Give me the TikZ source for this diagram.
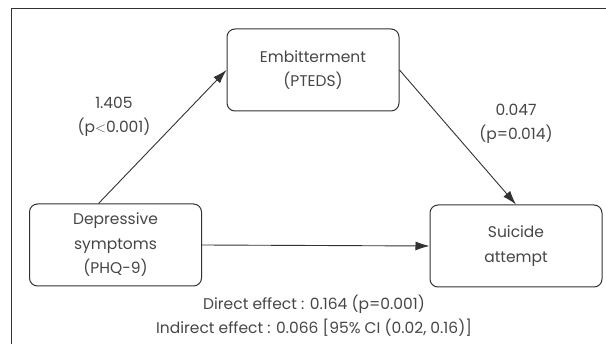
\documentclass[tikz,border=0pt]{standalone}
\usepackage{fontspec}
\setmainfont{Poppins}
\usepackage{tikz}
\usetikzlibrary{arrows.meta}

\definecolor{ink}{RGB}{50,50,50}
\definecolor{txt}{RGB}{70,70,70}
\tikzset{
  varbox/.style={draw=ink, line width=1pt, rounded corners=8pt, minimum width=172pt, minimum height=82pt,
    align=center, text=txt, font=\fontsize{15.5}{24.5}\selectfont},
  coef/.style={align=center, text=txt, font=\fontsize{15.5}{24}\selectfont},
  path/.style={draw=ink, line width=0.9pt, -{Latex[length=14pt,width=9pt]}}
}

\begin{document}
\begin{tikzpicture}[x=1pt, y=-1pt]
			\useasboundingbox (0,0) rectangle (606,344);
			\draw[ink, line width=1pt] (11,350) -- (11,9) -- (615,9);

			\node[varbox] (emb) at (313,70) {Embitterment\\(PTEDS)};
			\node[varbox] (dep) at (115.5,245) {Depressive\\symptoms\\(PHQ-9)};
			\node[varbox] (sui) at (516,246) {Suicide\\attempt};

			\draw[path] ([xshift=-17pt]dep.north) -- (emb.west);
			\draw[path] (emb.east) -- (sui.north);
			\draw[path] (dep.east) -- (sui.west);

			\node[coef] (a) at (114,117) {1.405\\(p$<$0.001)};
			\node[coef] (b) at (516,124) {0.047\\(p=0.014)};

			\node[coef] (eff) at (314,316) {Direct effect : 0.164 (p=0.001)\\Indirect effect : 0.066 [95\% CI (0.02, 0.16)]};
		\end{tikzpicture}
\end{document}
